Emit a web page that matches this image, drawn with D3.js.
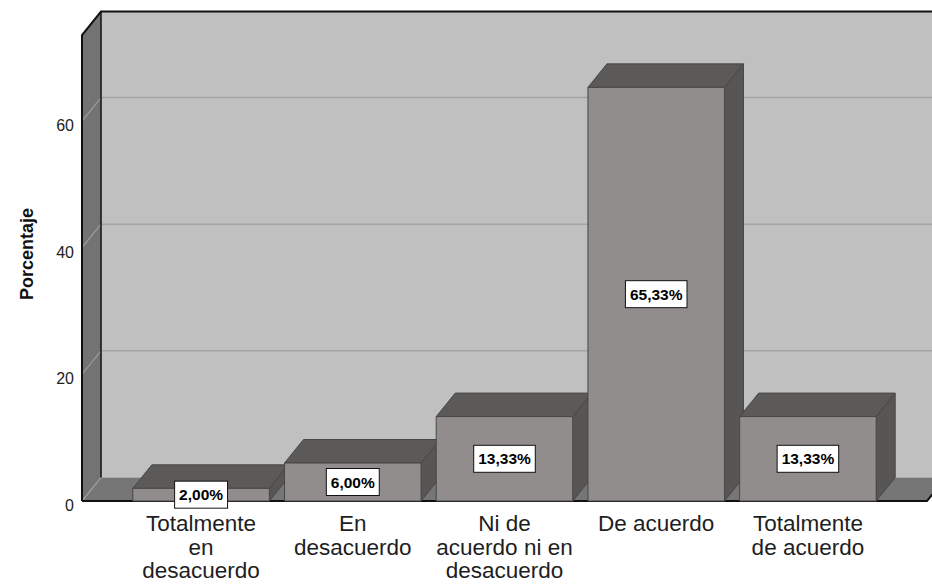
<!DOCTYPE html>
<html>
<head>
<meta charset="utf-8">
<script src="https://cdn.jsdelivr.net/npm/d3@7"></script>
<style>
  html, body { margin: 0; padding: 0; background: #fff; }
  svg { display: block; font-family: "Liberation Sans", Arial, sans-serif; }
</style>
</head>
<body>
<svg id="chart" width="932" height="584"></svg>
<script>
const categories = [
  'Totalmente en desacuerdo',
  'En desacuerdo',
  'Ni de acuerdo ni en desacuerdo',
  'De acuerdo',
  'Totalmente de acuerdo'
]
const labelLines = [
  ['Totalmente', 'en', 'desacuerdo'],
  ['En', 'desacuerdo'],
  ['Ni de', 'acuerdo ni en', 'desacuerdo'],
  ['De acuerdo'],
  ['Totalmente', 'de acuerdo']
]
const percentages = [2.00, 6.00, 13.33, 65.33, 13.33]
const yTicks = [0, 20, 40, 60]
const yLabel = 'Porcentaje'

const theme = {
  backWall: '#c0c0c0',
  sideWall: '#737373',
  floor: '#767676',
  grid: '#a4a4a4',
  barFront: '#918d8c',
  barTop: '#5c5a58',
  barSide: '#585654',
  barStroke: '#474747'
}

const svg = d3.select('#chart')

// front plane of the 3D box + depth offset
const pLeft = 82, pRight = 927, pBottom = 501, pTop = 35
const dx = 19, dy = 23.5

const x = d3.scaleBand()
  .domain(categories)
  .range([pLeft, pRight])
  .paddingInner(0.1)
  .paddingOuter(0.335)

const y = d3.scaleLinear()
  .domain([0, 73.6])
  .range([pBottom, pTop])

const pts = arr => arr.map(p => p.join(',')).join(' ')

// Walls
svg.append('rect')
  .attr('x', pLeft + dx).attr('y', pTop - dy)
  .attr('width', pRight - pLeft).attr('height', pBottom - pTop)
  .attr('fill', theme.backWall)

svg.append('polygon')
  .attr('points', pts([[pLeft, pTop], [pLeft + dx, pTop - dy], [pLeft + dx, pBottom - dy], [pLeft, pBottom]]))
  .attr('fill', theme.sideWall)

svg.append('polygon')
  .attr('points', pts([[pLeft, pBottom], [pLeft + dx, pBottom - dy], [pRight + dx, pBottom - dy], [pRight, pBottom]]))
  .attr('fill', theme.floor)

// Gridlines on back wall and left wall
const grid = svg.append('g')
grid.selectAll('line.back')
  .data(yTicks.filter(d => d > 0))
  .enter().append('line')
  .attr('class', 'back')
  .attr('x1', pLeft + dx).attr('x2', pRight + dx)
  .attr('y1', d => y(d) - dy).attr('y2', d => y(d) - dy)
  .attr('stroke', theme.grid).attr('stroke-width', 1.5)

grid.selectAll('line.side')
  .data(yTicks)
  .enter().append('line')
  .attr('class', 'side')
  .attr('x1', pLeft).attr('x2', pLeft + dx)
  .attr('y1', d => y(d)).attr('y2', d => y(d) - dy)
  .attr('stroke', '#9c9c9c').attr('stroke-width', 1.2)

// Frame edges
const frame = svg.append('g')
  .attr('fill', 'none')
  .attr('stroke', '#111')
frame.append('path')
  .attr('d', `M${pLeft},${pBottom}V${pTop}L${pLeft + dx},${pTop - dy}H${pRight + dx}`)
  .attr('stroke-width', 2)
frame.append('path')
  .attr('d', `M${pLeft + dx},${pTop - dy}V${pBottom - dy}`)
  .attr('stroke-width', 1.5)
frame.append('path')
  .attr('d', `M${pLeft},${pBottom}H${pRight}L${pRight + dx},${pBottom - dy}`)
  .attr('stroke-width', 2)

// Bars (drawn left to right so the next bar covers the previous side face)
const data = categories.map((c, i) => ({ cat: c, value: percentages[i] }))

const bars = svg.append('g')
  .selectAll('g.bar')
  .data(data)
  .enter().append('g')
  .attr('class', 'bar')
  .attr('stroke', theme.barStroke)
  .attr('stroke-width', 1)
  .attr('stroke-linejoin', 'round')

bars.append('polygon')
  .attr('points', d => {
    const x1 = x(d.cat) + x.bandwidth(), yt = y(d.value)
    return pts([[x1, yt], [x1 + dx, yt - dy], [x1 + dx, pBottom - dy], [x1, pBottom]])
  })
  .attr('fill', theme.barSide)

bars.append('polygon')
  .attr('points', d => {
    const x0 = x(d.cat), x1 = x0 + x.bandwidth(), yt = y(d.value)
    return pts([[x0, yt], [x0 + dx, yt - dy], [x1 + dx, yt - dy], [x1, yt]])
  })
  .attr('fill', theme.barTop)

bars.append('rect')
  .attr('x', d => x(d.cat))
  .attr('y', d => y(d.value))
  .attr('width', x.bandwidth())
  .attr('height', d => pBottom - y(d.value))
  .attr('fill', theme.barFront)

// Value labels in white boxes
const fmt = v => d3.format('.2f')(v).replace('.', ',') + '%'
const labels = svg.append('g')
  .selectAll('g.vlabel')
  .data(data)
  .enter().append('g')
  .attr('class', 'vlabel')
  .attr('transform', d => `translate(${x(d.cat) + x.bandwidth() / 2},${(y(d.value) + pBottom) / 2})`)

labels.append('rect')
  .attr('fill', '#fff')
  .attr('stroke', '#111')
  .attr('stroke-width', 1)

labels.append('text')
  .attr('text-anchor', 'middle')
  .attr('dy', '0.36em')
  .style('font-size', '15.5px')
  .style('font-weight', 'bold')
  .style('fill', '#000')
  .text(d => fmt(d.value))

labels.each(function () {
  const g = d3.select(this)
  const w = g.select('text').node().getComputedTextLength() + 9
  const h = 27
  g.select('rect')
    .attr('x', -w / 2).attr('y', -h / 2)
    .attr('width', w).attr('height', h)
})

// Y axis tick labels
const yAxis = svg.append('g')
  .attr('transform', `translate(${pLeft},0)`)
  .call(d3.axisLeft(y).tickValues(yTicks).tickSize(0).tickPadding(8).tickFormat(d3.format('d')))

yAxis.select('.domain').remove()
yAxis.selectAll('text')
  .attr('dy', '0.6em')
  .style('font-size', '16px')
  .style('font-family', '"Liberation Sans", Arial, sans-serif')
  .style('fill', '#1e1e1e')

svg.append('text')
  .attr('transform', 'translate(33,254) rotate(-90)')
  .attr('text-anchor', 'middle')
  .style('font-size', '18px')
  .style('font-weight', 'bold')
  .style('fill', '#111')
  .text(yLabel)

// Category labels
const catText = svg.append('g')
  .selectAll('text.cat')
  .data(categories)
  .enter().append('text')
  .attr('class', 'cat')
  .attr('text-anchor', 'middle')
  .attr('transform', d => `translate(${x(d) + x.bandwidth() / 2},531)`)
  .style('font-size', '22.5px')
  .style('fill', '#1e1e1e')

catText.selectAll('tspan')
  .data((d, i) => labelLines[i])
  .enter().append('tspan')
  .attr('x', 0)
  .attr('y', (d, i) => i * 23.5)
  .text(d => d)
</script>
</body>
</html>
